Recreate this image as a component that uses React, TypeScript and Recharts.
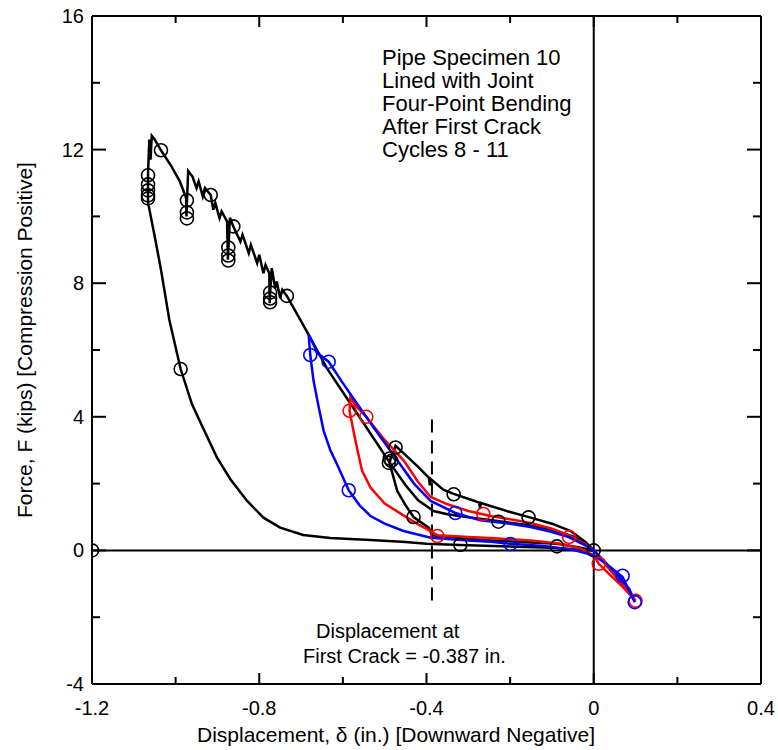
import React from 'react';
import { ComposedChart, Line, Scatter, XAxis, YAxis, ReferenceLine } from 'recharts';

// axis ticks
const xTicks = [-1.2, -1.0, -0.8, -0.6, -0.4, -0.2, 0, 0.2, 0.4];
const xMajor = [-1.2, -0.8, -0.4, 0, 0.4];
const yTicks = [-4, -2, 0, 2, 4, 6, 8, 10, 12, 14, 16];
const yMajor = [-4, 0, 4, 8, 12, 16];

const crackDisp = -0.387;

// cycle 8: loading to the envelope, cracking, holds, then unloading
const black8 = [
  { x: 0, y: 0 }, { x: -0.02, y: 0.2 }, { x: -0.05, y: 0.42 }, { x: -0.1, y: 0.62 },
  { x: -0.16, y: 0.76 }, { x: -0.23, y: 0.88 }, { x: -0.3, y: 0.99 }, { x: -0.35, y: 1.08 },
  { x: -0.383, y: 1.18 }, { x: -0.42, y: 1.5 }, { x: -0.45, y: 1.95 }, { x: -0.486, y: 2.59 },
  { x: -0.534, y: 3.5 }, { x: -0.582, y: 4.4 }, { x: -0.638, y: 5.45 }, { x: -0.686, y: 6.55 },
  { x: -0.734, y: 7.62 }, { x: -0.745, y: 7.8 }, { x: -0.75, y: 7.55 }, { x: -0.758, y: 8.05 },
  { x: -0.762, y: 7.85 }, { x: -0.77, y: 8.45 }, { x: -0.774, y: 7.7 }, { x: -0.775, y: 7.4 },
  { x: -0.776, y: 8.3 }, { x: -0.785, y: 8.55 }, { x: -0.79, y: 8.3 }, { x: -0.8, y: 8.85 },
  { x: -0.805, y: 8.6 }, { x: -0.82, y: 9.15 }, { x: -0.825, y: 8.9 }, { x: -0.84, y: 9.45 },
  { x: -0.845, y: 9.25 }, { x: -0.862, y: 9.7 }, { x: -0.87, y: 9.96 }, { x: -0.874, y: 9.0 },
  { x: -0.875, y: 8.7 }, { x: -0.877, y: 9.85 }, { x: -0.89, y: 10.15 }, { x: -0.895, y: 9.95 },
  { x: -0.905, y: 10.4 }, { x: -0.91, y: 10.2 }, { x: -0.916, y: 10.64 }, { x: -0.93, y: 10.85 },
  { x: -0.935, y: 10.6 }, { x: -0.945, y: 11.05 }, { x: -0.95, y: 10.85 }, { x: -0.96, y: 11.2 },
  { x: -0.97, y: 11.36 }, { x: -0.973, y: 10.4 }, { x: -0.974, y: 10.0 }, { x: -0.975, y: 10.56 },
  { x: -0.99, y: 11.05 }, { x: -1.01, y: 11.5 }, { x: -1.035, y: 11.98 }, { x: -1.05, y: 12.3 },
  { x: -1.057, y: 12.41 }, { x: -1.06, y: 11.7 }, { x: -1.063, y: 12.3 }, { x: -1.066, y: 11.3 },
  { x: -1.066, y: 10.42 }, { x: -1.05, y: 9.4 }, { x: -1.035, y: 8.4 }, { x: -1.015, y: 6.9 },
  { x: -0.988, y: 5.43 }, { x: -0.961, y: 4.38 }, { x: -0.937, y: 3.73 }, { x: -0.901, y: 2.78 },
  { x: -0.869, y: 2.13 }, { x: -0.829, y: 1.48 }, { x: -0.79, y: 0.98 }, { x: -0.75, y: 0.68 },
  { x: -0.695, y: 0.46 }, { x: -0.63, y: 0.37 }, { x: -0.534, y: 0.31 }, { x: -0.45, y: 0.25 },
  { x: -0.4, y: 0.2 }, { x: -0.32, y: 0.16 }, { x: -0.2, y: 0.12 }, { x: -0.1, y: 0.08 },
  { x: -0.04, y: 0.03 }, { x: 0, y: 0 },
];

// cycle 9: reload to about the first crack region, hold, unload
const black9 = [
  { x: 0, y: 0 }, { x: -0.02, y: 0.25 }, { x: -0.055, y: 0.58 }, { x: -0.1, y: 0.8 },
  { x: -0.151, y: 0.98 }, { x: -0.2, y: 1.15 }, { x: -0.247, y: 1.33 }, { x: -0.27, y: 1.42 },
  { x: -0.272, y: 1.25 }, { x: -0.274, y: 1.43 }, { x: -0.29, y: 1.5 }, { x: -0.335, y: 1.69 },
  { x: -0.36, y: 1.82 }, { x: -0.39, y: 2.14 }, { x: -0.392, y: 1.95 }, { x: -0.394, y: 2.17 },
  { x: -0.42, y: 2.5 }, { x: -0.45, y: 2.85 }, { x: -0.474, y: 3.13 }, { x: -0.48, y: 2.9 },
  { x: -0.486, y: 2.75 }, { x: -0.488, y: 2.6 }, { x: -0.47, y: 1.78 }, { x: -0.45, y: 1.35 },
  { x: -0.431, y: 1.0 }, { x: -0.395, y: 0.68 }, { x: -0.386, y: 0.45 }, { x: -0.3, y: 0.34 },
  { x: -0.247, y: 0.3 }, { x: -0.15, y: 0.24 }, { x: -0.088, y: 0.2 }, { x: -0.04, y: 0.1 },
  { x: 0, y: 0 },
];

// cycle 10
const red10 = [
  { x: 0, y: 0 }, { x: -0.02, y: 0.18 }, { x: -0.059, y: 0.45 }, { x: -0.1, y: 0.65 },
  { x: -0.151, y: 0.82 }, { x: -0.2, y: 0.93 }, { x: -0.247, y: 1.03 }, { x: -0.3, y: 1.18 },
  { x: -0.35, y: 1.38 }, { x: -0.39, y: 1.6 }, { x: -0.42, y: 2.05 }, { x: -0.454, y: 2.68 },
  { x: -0.503, y: 3.35 }, { x: -0.544, y: 4.0 }, { x: -0.57, y: 4.35 }, { x: -0.582, y: 4.58 },
  { x: -0.584, y: 4.18 }, { x: -0.575, y: 3.6 }, { x: -0.565, y: 3.0 }, { x: -0.554, y: 2.38 },
  { x: -0.534, y: 1.88 }, { x: -0.5, y: 1.4 }, { x: -0.455, y: 1.05 }, { x: -0.42, y: 0.78 },
  { x: -0.39, y: 0.58 }, { x: -0.374, y: 0.45 }, { x: -0.3, y: 0.4 }, { x: -0.247, y: 0.37 },
  { x: -0.15, y: 0.3 }, { x: -0.08, y: 0.2 }, { x: -0.03, y: 0.05 }, { x: 0, y: -0.15 },
  { x: 0.012, y: -0.4 }, { x: 0.04, y: -0.75 }, { x: 0.07, y: -1.1 }, { x: 0.1, y: -1.51 },
  { x: 0.085, y: -1.2 }, { x: 0.05, y: -0.75 }, { x: 0.02, y: -0.3 }, { x: 0, y: 0 },
];

// cycle 11
const blue11 = [
  { x: 0, y: 0 }, { x: -0.02, y: 0.15 }, { x: -0.06, y: 0.4 }, { x: -0.1, y: 0.55 },
  { x: -0.151, y: 0.7 }, { x: -0.2, y: 0.8 }, { x: -0.271, y: 0.9 }, { x: -0.331, y: 1.12 },
  { x: -0.39, y: 1.48 }, { x: -0.43, y: 2.0 }, { x: -0.463, y: 2.58 }, { x: -0.526, y: 3.67 },
  { x: -0.598, y: 4.97 }, { x: -0.634, y: 5.65 }, { x: -0.66, y: 5.9 }, { x: -0.682, y: 6.47 },
  { x: -0.678, y: 5.85 }, { x: -0.67, y: 5.07 }, { x: -0.658, y: 4.3 }, { x: -0.646, y: 3.58 },
  { x: -0.63, y: 3.0 }, { x: -0.614, y: 2.58 }, { x: -0.586, y: 1.8 }, { x: -0.56, y: 1.35 },
  { x: -0.534, y: 1.03 }, { x: -0.5, y: 0.8 }, { x: -0.455, y: 0.58 }, { x: -0.39, y: 0.38 },
  { x: -0.3, y: 0.3 }, { x: -0.247, y: 0.26 }, { x: -0.199, y: 0.2 }, { x: -0.12, y: 0.13 },
  { x: -0.05, y: 0.02 }, { x: 0, y: -0.15 }, { x: 0.03, y: -0.4 }, { x: 0.069, y: -0.8 },
  { x: 0.098, y: -1.55 }, { x: 0.085, y: -1.15 }, { x: 0.05, y: -0.65 }, { x: 0.02, y: -0.25 },
  { x: 0, y: 0 },
];

// circle markers
const blackMarks = [
  { x: -1.2, y: 0 }, { x: -1.035, y: 11.98 }, { x: -1.066, y: 11.23 }, { x: -1.066, y: 10.96 },
  { x: -1.066, y: 10.78 }, { x: -1.066, y: 10.63 }, { x: -1.066, y: 10.54 }, { x: -0.973, y: 10.48 },
  { x: -0.973, y: 10.12 }, { x: -0.973, y: 9.94 }, { x: -0.916, y: 10.64 }, { x: -0.862, y: 9.7 },
  { x: -0.874, y: 9.07 }, { x: -0.874, y: 8.83 }, { x: -0.874, y: 8.68 }, { x: -0.774, y: 7.72 },
  { x: -0.774, y: 7.54 }, { x: -0.774, y: 7.43 }, { x: -0.734, y: 7.62 }, { x: -0.988, y: 5.43 },
  { x: -0.474, y: 3.08 }, { x: -0.488, y: 2.75 }, { x: -0.49, y: 2.62 }, { x: -0.484, y: 2.68 },
  { x: -0.431, y: 1.0 }, { x: -0.335, y: 1.68 }, { x: -0.228, y: 0.86 }, { x: -0.156, y: 0.99 },
  { x: -0.319, y: 0.17 }, { x: -0.088, y: 0.12 }, { x: 0, y: 0 },
];
const redMarks = [
  { x: -0.584, y: 4.18 }, { x: -0.544, y: 4.0 }, { x: -0.264, y: 1.09 }, { x: -0.374, y: 0.43 },
  { x: -0.059, y: 0.4 }, { x: 0.012, y: -0.4 }, { x: 0.1, y: -1.51 },
];
const blueMarks = [
  { x: -0.678, y: 5.85 }, { x: -0.634, y: 5.65 }, { x: -0.586, y: 1.8 }, { x: -0.331, y: 1.12 },
  { x: -0.199, y: 0.19 }, { x: 0.069, y: -0.76 }, { x: 0.098, y: -1.55 },
];

const noteLines = [
  'Pipe Specimen 10',
  'Lined with Joint',
  'Four-Point Bending',
  'After First Crack',
  'Cycles 8 - 11',
];

const FONT = '"Liberation Sans", Arial, sans-serif';
const near = (v: number, list: number[]) => list.some((m) => Math.abs(m - v) < 1e-6);
const fmt = (v: number) => (Math.abs(v) < 1e-9 ? '0' : String(Math.round(v * 10) / 10));

function BottomTick({ x, y, payload }: any) {
  const major = near(payload.value, xMajor);
  return (
    <g>
      <line x1={x} y1={y} x2={x} y2={y - (major ? 11 : 7)} stroke="#000" strokeWidth={2} />
      {major && (
        <text x={x} y={y + 31} textAnchor="middle" fontSize={20} fontFamily={FONT} fill="#000">
          {fmt(payload.value)}
        </text>
      )}
    </g>
  );
}

function TopTick({ x, y, payload }: any) {
  const major = near(payload.value, xMajor);
  return <line x1={x} y1={y} x2={x} y2={y + (major ? 11 : 7)} stroke="#000" strokeWidth={2} />;
}

function LeftTick({ x, y, payload }: any) {
  const major = near(payload.value, yMajor);
  return (
    <g>
      <line x1={x} y1={y} x2={x + (major ? 14 : 8)} y2={y} stroke="#000" strokeWidth={2} />
      {major && (
        <text x={x - 8} y={y + 7} textAnchor="end" fontSize={20} fontFamily={FONT} fill="#000">
          {fmt(payload.value)}
        </text>
      )}
    </g>
  );
}

function RightTick({ x, y, payload }: any) {
  const major = near(payload.value, yMajor);
  return <line x1={x} y1={y} x2={x - (major ? 14 : 8)} y2={y} stroke="#000" strokeWidth={2} />;
}

const ring = (color: string) => (p: any) => (
  <circle cx={p.cx} cy={p.cy} r={6.5} fill="none" stroke={color} strokeWidth={1.6} />
);

const axisLine = { stroke: '#000', strokeWidth: 2 };

export default function App() {
  return (
    <div style={{ position: 'absolute', left: 0, top: 0, width: 778, height: 750, background: '#fff', fontFamily: FONT }}>
      <ComposedChart width={778} height={750} margin={{ top: 0, right: 0, bottom: 0, left: 0 }}>
        <XAxis type="number" dataKey="x" domain={[-1.2, 0.4]} allowDataOverflow ticks={xTicks} interval={0}
          height={66} tickSize={0} tickMargin={0} tickLine={false} axisLine={axisLine} tick={<BottomTick />} />
        <XAxis xAxisId="top" orientation="top" type="number" dataKey="x" domain={[-1.2, 0.4]} allowDataOverflow
          ticks={xTicks} interval={0} height={16} tickSize={0} tickMargin={0} tickLine={false} axisLine={axisLine} tick={<TopTick />} />
        <YAxis type="number" dataKey="y" domain={[-4, 16]} allowDataOverflow ticks={yTicks} interval={0}
          width={92} tickSize={0} tickMargin={0} tickLine={false} axisLine={axisLine} tick={<LeftTick />} />
        <YAxis yAxisId="right" orientation="right" type="number" dataKey="y" domain={[-4, 16]} allowDataOverflow
          ticks={yTicks} interval={0} width={17} tickSize={0} tickMargin={0} tickLine={false} axisLine={axisLine} tick={<RightTick />} />

        <ReferenceLine y={0} stroke="#000" strokeWidth={2} />
        <ReferenceLine x={0} stroke="#000" strokeWidth={2} />
        <ReferenceLine segment={[{ x: crackDisp, y: -1.5 }, { x: crackDisp, y: 4.1 }]} stroke="#000" strokeWidth={2} strokeDasharray="13 8" />

        <Line data={black8} dataKey="y" type="linear" stroke="#000" strokeWidth={2.5} dot={false} isAnimationActive={false} />
        <Line data={black9} dataKey="y" type="linear" stroke="#000" strokeWidth={2.5} dot={false} isAnimationActive={false} />
        <Line data={red10} dataKey="y" type="linear" stroke="#ff0000" strokeWidth={2.5} dot={false} isAnimationActive={false} />
        <Line data={blue11} dataKey="y" type="linear" stroke="#0000ff" strokeWidth={2.5} dot={false} isAnimationActive={false} />

        <Scatter data={blackMarks} shape={ring('#000')} isAnimationActive={false} />
        <Scatter data={redMarks} shape={ring('#ff0000')} isAnimationActive={false} />
        <Scatter data={blueMarks} shape={ring('#0000ff')} isAnimationActive={false} />
      </ComposedChart>

      <div style={{ position: 'absolute', left: 382, top: 46, fontSize: 22, lineHeight: '23px', color: '#000' }}>
        {noteLines.map((t) => (
          <div key={t}>{t}</div>
        ))}
      </div>
      <div style={{ position: 'absolute', left: 316, top: 619, fontSize: 20, lineHeight: '24px', whiteSpace: 'nowrap' }}>
        Displacement at
      </div>
      <div style={{ position: 'absolute', left: 303, top: 644, fontSize: 20, lineHeight: '24px', whiteSpace: 'nowrap' }}>
        First Crack = {crackDisp} in.
      </div>
      <div style={{ position: 'absolute', left: 0, width: 792, top: 723, fontSize: 21, lineHeight: '24px', textAlign: 'center', whiteSpace: 'nowrap' }}>
        Displacement, δ (in.) [Downward Negative]
      </div>
      <div style={{ position: 'absolute', left: 25, top: 340, width: 0, height: 0 }}>
        <div style={{ position: 'absolute', transform: 'translate(-50%, -50%) rotate(-90deg)', fontSize: 21, lineHeight: '24px', whiteSpace: 'nowrap' }}>
          Force, F (kips) [Compression Positive]
        </div>
      </div>
    </div>
  );
}
